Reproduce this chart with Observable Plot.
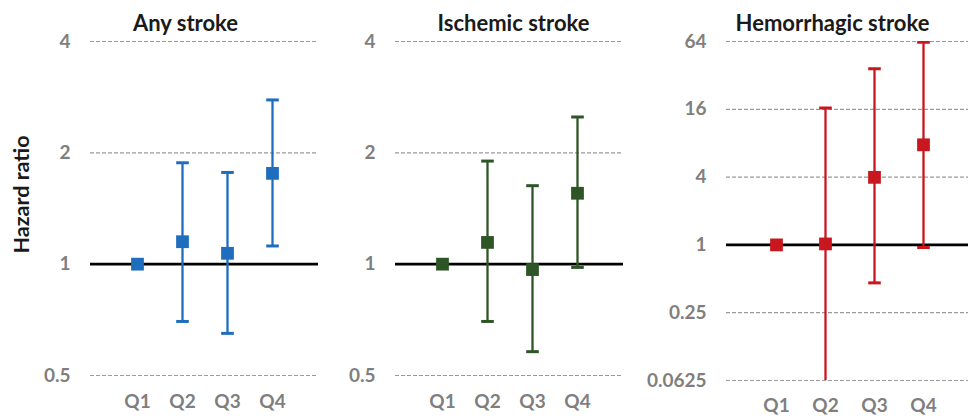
<!DOCTYPE html>
<html>
<head>
<meta charset="utf-8">
<script src="https://cdn.jsdelivr.net/npm/d3@7"></script>
<script src="https://cdn.jsdelivr.net/npm/@observablehq/plot@0.6"></script>
<style>
  html, body { margin: 0; padding: 0; background: #fff; overflow: hidden; }
  #wrap { position: relative; width: 968px; height: 419px; overflow: hidden; }
  .panel { position: absolute; top: 0; width: 340px; }
  .panel svg { max-width: none !important; }
</style>
</head>
<body>
<div id="wrap"></div>
<script>
// ---- Data ----
const quartiles = ["Q1", "Q2", "Q3", "Q4"];
const panelTitles = ["Any stroke", "Ischemic stroke", "Hemorrhagic stroke"];
const yLabel = "Hazard ratio";

const anyHR = [1, 1.15, 1.07, 1.76];
const anyLo = [null, 0.70, 0.65, 1.12];
const anyHi = [null, 1.88, 1.77, 2.78];

const ischHR = [1, 1.145, 0.967, 1.555];
const ischLo = [null, 0.70, 0.58, 0.98];
const ischHi = [null, 1.90, 1.63, 2.50];

const hemHR = [1, 1.02, 3.98, 7.74];
const hemLo = [null, 0.061, 0.46, 0.946];
const hemHi = [null, 16.4, 36.6, 62.9];

const ticksSmall = [0.5, 1, 2, 4];
const ticksWide = [0.0625, 0.25, 1, 4, 16, 64];

const colors = ["#1f6dbd", "#2e5526", "#c8171e"];

// custom horizontal-line symbol for error-bar caps
const capSymbol = {
  draw(context, size) {
    const r = Math.sqrt(size / Math.PI);
    context.moveTo(-r, 0);
    context.lineTo(r, 0);
  }
};

function makePanel(o) {
  const rows = quartiles.map((q, i) => ({q, hr: o.hr[i], lo: o.lo[i], hi: o.hi[i]}));
  const bars = rows.filter(d => d.lo != null);
  const marks = [
    Plot.ruleY(o.ticks.filter(t => t !== 1), {stroke: "#9a9a9a", strokeWidth: 1.2, strokeDasharray: "4,2"}),
    Plot.ruleY([1], {stroke: "#000", strokeWidth: 2.6}),
    Plot.ruleX(bars, {x: "q", y1: "lo", y2: "hi", stroke: o.color, strokeWidth: 2.3, clip: true}),
    Plot.dot(bars, {x: "q", y: "lo", symbol: capSymbol, r: 6.3, stroke: o.color, fill: "none", strokeWidth: 3, clip: true}),
    Plot.dot(bars, {x: "q", y: "hi", symbol: capSymbol, r: 6.3, stroke: o.color, fill: "none", strokeWidth: 3, clip: true}),
    Plot.dot(rows, {x: "q", y: "hr", symbol: "square", r: 7.2, fill: o.color, stroke: "none"}),
    Plot.axisX({tickSize: 0, tickPadding: o.xPad, fontSize: 19, fontWeight: "bold", color: "#7f7f7f", label: null}),
    Plot.axisY({ticks: o.ticks, tickFormat: d => String(d), tickSize: 0, tickPadding: 20, fontSize: 19, fontWeight: "bold", color: "#7f7f7f", label: null}),
    Plot.text([o.title], {frameAnchor: "top-left", dx: o.titleDx, dy: -26, fontSize: 22, fontWeight: "bold", fill: "#1a1a1a", textAnchor: "middle"})
  ];
  if (o.showYLabel) {
    marks.push(Plot.text([yLabel], {frameAnchor: "left", dx: -68, dy: -14, rotate: -90, fontSize: 21.5, fontWeight: "bold", fill: "#1a1a1a", textAnchor: "middle"}));
  }
  const chart = Plot.plot({
    width: o.width,
    height: 419,
    marginLeft: o.marginLeft,
    marginRight: o.marginRight,
    marginTop: 41,
    marginBottom: o.marginBottom,
    style: {fontFamily: "Lato, 'Open Sans', sans-serif", overflow: "visible", background: "transparent", maxWidth: "none"},
    x: {type: "point", domain: quartiles, padding: 1},
    y: {type: "log", base: 2, domain: o.domain},
    marks
  });
  const div = document.createElement("div");
  div.className = "panel";
  div.style.left = o.left + "px";
  div.appendChild(chart);
  document.getElementById("wrap").appendChild(div);
}

makePanel({left: 0, width: 330, marginLeft: 90, marginRight: 12, marginBottom: 44, xPad: 18.5,
  domain: [0.5, 4], ticks: ticksSmall, hr: anyHR, lo: anyLo, hi: anyHi, color: colors[0],
  title: panelTitles[0], titleDx: 95, showYLabel: true});
makePanel({left: 330, width: 320, marginLeft: 65, marginRight: 27, marginBottom: 44, xPad: 18.5,
  domain: [0.5, 4], ticks: ticksSmall, hr: ischHR, lo: ischLo, hi: ischHi, color: colors[1],
  title: panelTitles[1], titleDx: 118, showYLabel: false});
makePanel({left: 650, width: 330, marginLeft: 76, marginRight: 7.5, marginBottom: 39, xPad: 17.5,
  domain: [0.0625, 64], ticks: ticksWide, hr: hemHR, lo: hemLo, hi: hemHi, color: colors[2],
  title: panelTitles[2], titleDx: 106, showYLabel: false});
</script>
</body>
</html>
